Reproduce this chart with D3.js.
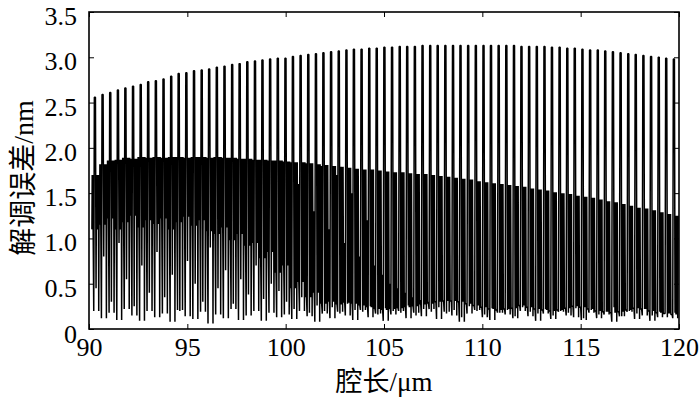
<!DOCTYPE html>
<html>
<head>
<meta charset="utf-8">
<script src="https://cdn.jsdelivr.net/npm/d3@7"></script>
<style>
  body { margin: 0; background: #fff; }
  #chart { width: 700px; height: 398px; }
</style>
</head>
<body>
<div id="chart"></div>
<script>
// one entry per oscillation cycle
const peakX = [90.30, 90.69, 91.08, 91.47, 91.85, 92.24, 92.63, 93.01, 93.40, 93.79,
    94.18, 94.56, 94.95, 95.34, 95.73, 96.11, 96.50, 96.89, 97.28, 97.66,
    98.05, 98.44, 98.82, 99.21, 99.60, 99.99, 100.37, 100.76, 101.15, 101.54,
    101.92, 102.31, 102.70, 103.09, 103.47, 103.86, 104.25, 104.63, 105.02, 105.41,
    105.80, 106.18, 106.57, 106.96, 107.35, 107.73, 108.12, 108.51, 108.89, 109.28,
    109.67, 110.06, 110.44, 110.83, 111.22, 111.61, 111.99, 112.38, 112.77, 113.16,
    113.54, 113.93, 114.32, 114.70, 115.09, 115.48, 115.87, 116.25, 116.64, 117.03,
    117.42, 117.80, 118.19, 118.58, 118.97, 119.35, 119.74];
const peakY = [2.56, 2.59, 2.61, 2.64, 2.66, 2.68, 2.70, 2.73, 2.74, 2.76,
    2.79, 2.82, 2.83, 2.85, 2.86, 2.87, 2.89, 2.90, 2.92, 2.93,
    2.95, 2.96, 2.97, 2.98, 2.99, 2.99, 3.01, 3.02, 3.03, 3.04,
    3.05, 3.06, 3.07, 3.08, 3.09, 3.09, 3.10, 3.10, 3.11, 3.11,
    3.12, 3.12, 3.12, 3.13, 3.13, 3.13, 3.13, 3.13, 3.13, 3.13,
    3.13, 3.13, 3.13, 3.13, 3.13, 3.13, 3.12, 3.12, 3.12, 3.12,
    3.11, 3.11, 3.10, 3.10, 3.09, 3.08, 3.08, 3.07, 3.06, 3.05,
    3.04, 3.03, 3.02, 3.01, 3.00, 2.99, 2.98];
const bandHi = [1.70, 1.82, 1.86, 1.87, 1.89, 1.88, 1.90, 1.89, 1.90, 1.89,
    1.90, 1.90, 1.89, 1.90, 1.90, 1.89, 1.90, 1.89, 1.89, 1.88,
    1.88, 1.87, 1.87, 1.86, 1.86, 1.85, 1.84, 1.84, 1.83, 1.82,
    1.81, 1.80, 1.79, 1.78, 1.77, 1.76, 1.76, 1.75, 1.74, 1.73,
    1.73, 1.72, 1.71, 1.71, 1.70, 1.69, 1.68, 1.67, 1.66, 1.65,
    1.63, 1.62, 1.61, 1.60, 1.59, 1.58, 1.57, 1.55, 1.54, 1.53,
    1.51, 1.50, 1.49, 1.47, 1.46, 1.45, 1.43, 1.41, 1.40, 1.38,
    1.36, 1.34, 1.33, 1.31, 1.29, 1.27, 1.25];
const bandLo = [1.10, 1.15, 1.22, 1.10, 1.18, 1.25, 1.12, 1.20, 1.16, 1.22,
    1.10, 1.18, 1.24, 1.14, 1.20, 1.08,
    1.05, 1.12, 0.98, 1.05, 0.92, 0.95, 0.78, 0.85, 0.62, 0.70,
    0.45, 0.52, 0.35, 0.40, 0.28, 0.30, 0.27, 0.29, 0.28, 0.26,
    0.24, 0.22, 0.21, 0.22, 0.23, 0.24, 0.25, 0.27, 0.28, 0.30,
    0.31, 0.31, 0.30, 0.28, 0.26, 0.24, 0.22, 0.21, 0.22, 0.23,
    0.26, 0.24, 0.22, 0.21, 0.20, 0.21, 0.23, 0.25, 0.24, 0.22,
    0.20, 0.19, 0.18, 0.19, 0.21, 0.23, 0.22, 0.20, 0.18, 0.17, 0.16];
const gapTop = [1.70, 1.82, 1.86, 1.87, 1.89, 1.88, 1.90, 1.89, 1.90, 1.89,
    1.90, 1.90, 1.89, 1.90, 1.90, 1.89, 1.90, 1.89, 1.89, 1.88,
    1.88, 1.87, 1.87, 1.86, 1.86, 1.85,
    1.84, 1.60, 1.83, 1.30, 1.80, 1.10, 1.70, 0.95, 1.50, 0.80, 1.20, 0.70,
    0.60, 0.50, 0.45, 0.40, 0.35, 0.32, 0.30, 0.30,
    0.31, 0.31, 0.30, 0.28, 0.26, 0.24, 0.22, 0.21, 0.22, 0.23,
    0.26, 0.24, 0.22, 0.21, 0.20, 0.21, 0.23, 0.25, 0.24, 0.22,
    0.20, 0.19, 0.18, 0.19, 0.21, 0.23, 0.22, 0.20, 0.18, 0.17, 0.16];
const dipA = [0.20, 0.12, 0.18, 0.10, 0.22, 0.15, 0.09, 0.20, 0.13, 0.17,
    0.08, 0.21, 0.14, 0.11, 0.19, 0.06, 0.16, 0.12, 0.22, 0.10,
    0.15, 0.20, 0.09, 0.18, 0.13, 0.16, 0.11, 0.20, 0.14, 0.08,
    0.17, 0.12, 0.19, 0.15, 0.10, 0.21, 0.13, 0.17, 0.09, 0.16,
    0.20, 0.12, 0.18, 0.14, 0.22, 0.11, 0.19, 0.15, 0.08, 0.17,
    0.21, 0.13, 0.10, 0.18, 0.16, 0.12, 0.20, 0.14, 0.09, 0.17,
    0.11, 0.19, 0.15, 0.13, 0.10, 0.18, 0.12, 0.16, 0.08, 0.14,
    0.19, 0.11, 0.15, 0.09, 0.13, 0.17, 0.12];
const dipB = [0.45, 0.80, 0.30, 0.95, 0.55, 0.25, 0.70, 0.40, 0.85, 0.35,
    0.60, 0.20, 0.75, 0.50, 0.30, 0.90, 0.45, 0.65, 0.28, 0.55,
    0.38, 0.70, 0.33, 0.50, 0.42,
    0.30, 0.22, 0.35, 0.18, 0.26, 0.20, 0.24, 0.17, 0.28, 0.21,
    0.19, 0.25, 0.16, 0.23, 0.20, 0.18, 0.26, 0.15, 0.22, 0.19,
    0.24, 0.17, 0.21, 0.13, 0.25, 0.20, 0.16, 0.23, 0.18, 0.21,
    0.14, 0.24, 0.19, 0.17, 0.22, 0.15, 0.20, 0.18, 0.23, 0.12,
    0.21, 0.16, 0.19, 0.24, 0.14, 0.20, 0.17, 0.22, 0.15, 0.19,
    0.13, 0.18];

const xTicks = [90, 95, 100, 105, 110, 115, 120];
const yTicks = [0, 0.5, 1.0, 1.5, 2.0, 2.5, 3.0, 3.5];

const serif = "Liberation Serif, Times New Roman, serif";

function drawChart() {
    const width = 700, height = 398;
    const margin = {top: 12, right: 21, bottom: 69, left: 89};

    const svg = d3.select("#chart").append("svg")
        .attr("width", width)
        .attr("height", height);

    const x = d3.scaleLinear().domain([90, 120]).range([margin.left, width - margin.right]);
    const y = d3.scaleLinear().domain([0, 3.5]).range([height - margin.bottom, margin.top]);

    // each cycle: gap wiggle, deep dip, wide spike, dip, then the dense band
    const pts = [];
    peakX.forEach((px, i) => {
        const per = i < peakX.length - 1 ? peakX[i + 1] - px : px - peakX[i - 1];
        const x0 = px - 0.39 * per;
        const L = bandLo[i], H = bandHi[i], G = gapTop[i], P = peakY[i];
        const seq = [[0, L], [0.04, G], [0.08, L], [0.12, G], [0.16, L],
            [0.24, dipA[i]], [0.32, P], [0.46, P], [0.54, dipB[i]],
            [0.60, H], [0.66, L], [0.72, H], [0.78, L], [0.84, H], [0.89, dipA[i]], [0.95, H]];
        seq.forEach(([f, v]) => pts.push([x0 + f * per, v]));
    });

    svg.append("clipPath").attr("id", "plot-clip")
        .append("rect")
        .attr("x", margin.left).attr("y", margin.top)
        .attr("width", width - margin.left - margin.right)
        .attr("height", height - margin.top - margin.bottom);

    const line = d3.line().x(d => x(d[0])).y(d => y(d[1]));

    svg.append("path")
        .datum(pts)
        .attr("clip-path", "url(#plot-clip)")
        .attr("fill", "none")
        .attr("stroke", "#000")
        .attr("stroke-width", 1.5)
        .attr("stroke-linejoin", "bevel")
        .attr("d", line);

    const fmtY = d => d === 0 ? "0" : d.toFixed(1);

    svg.append("g")
        .attr("transform", `translate(0,${height - margin.bottom})`)
        .call(d3.axisBottom(x).tickValues(xTicks).tickSize(-5).tickPadding(9));
    const gy = svg.append("g")
        .attr("transform", `translate(${margin.left},0)`)
        .call(d3.axisLeft(y).tickValues(yTicks).tickFormat(fmtY).tickSize(-5).tickPadding(12));
    svg.append("g")
        .attr("transform", `translate(0,${margin.top})`)
        .call(d3.axisTop(x).tickValues(xTicks).tickFormat("").tickSize(-5));
    svg.append("g")
        .attr("transform", `translate(${width - margin.right},0)`)
        .call(d3.axisRight(y).tickValues(yTicks).tickFormat("").tickSize(-5));

    svg.selectAll(".domain").remove();
    svg.selectAll(".tick line").attr("stroke", "#000").attr("stroke-width", 1);

    svg.selectAll("g").attr("font-family", serif).attr("font-size", 26);
    svg.selectAll(".tick text")
        .attr("fill", "#000")
        .attr("font-family", serif)
        .attr("font-size", 26);
    gy.selectAll(".tick text")
        .attr("dy", d => d === 0 ? "0.5em" : "0.48em");

    svg.append("rect")
        .attr("x", margin.left).attr("y", margin.top)
        .attr("width", width - margin.left - margin.right)
        .attr("height", height - margin.top - margin.bottom)
        .attr("fill", "none")
        .attr("stroke", "#000")
        .attr("stroke-width", 1.6);

    const xt = svg.append("text")
        .attr("x", (margin.left + width - margin.right) / 2)
        .attr("y", 391)
        .attr("text-anchor", "middle")
        .attr("font-size", 27);
    xt.append("tspan").attr("font-family", "Noto Sans CJK SC").text("腔长");
    xt.append("tspan").attr("font-family", serif).text("/μm");

    const yt = svg.append("text")
        .attr("transform", "translate(33,178) rotate(-90)")
        .attr("text-anchor", "middle")
        .attr("font-size", 28);
    yt.append("tspan").attr("font-family", "Noto Sans CJK SC").text("解调误差");
    yt.append("tspan").attr("font-family", serif).text("/nm");
}

drawChart();
</script>
</body>
</html>
